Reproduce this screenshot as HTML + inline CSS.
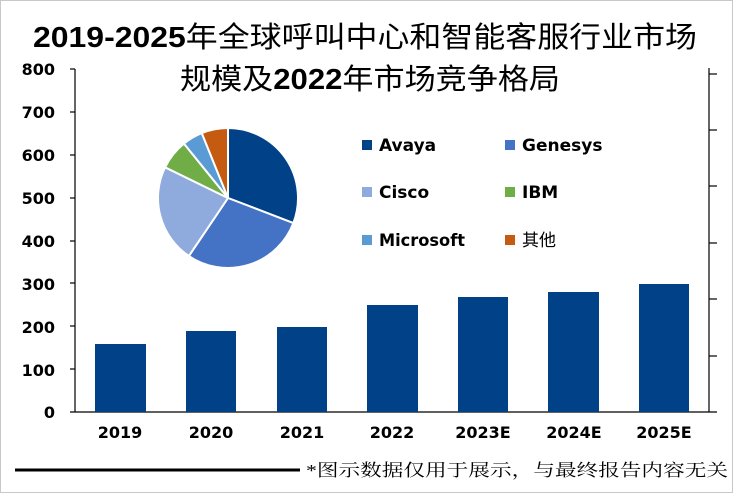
<!DOCTYPE html>
<html><head><meta charset="utf-8"><style>
html,body{margin:0;padding:0;background:#fff;}
svg{display:block;}
</style></head><body>
<svg id="s" width="733" height="493" xmlns="http://www.w3.org/2000/svg" font-family="'Liberation Sans','Noto Sans CJK SC',sans-serif">
<rect x="0.5" y="0.5" width="732" height="492" fill="#fff" stroke="#c8c8c8"/>
<text x="365" y="47" text-anchor="middle" font-size="29" textLength="664" lengthAdjust="spacingAndGlyphs"><tspan font-weight="bold">2019-2025</tspan>年全球呼叫中心和智能客服行业市场</text>
<text x="370" y="89" text-anchor="middle" font-size="29" textLength="380" lengthAdjust="spacingAndGlyphs">规模及<tspan font-weight="bold">2022</tspan>年市场竞争格局</text>
<g font-size="16" font-weight="bold" fill="#000" text-anchor="end" font-family="'DejaVu Sans','Liberation Sans',sans-serif">
<text x="55" y="75">800</text><text x="55" y="118">700</text><text x="55" y="161">600</text><text x="55" y="204">500</text><text x="55" y="247">400</text><text x="55" y="290">300</text><text x="55" y="333">200</text><text x="55" y="376">100</text><text x="55" y="418">0</text>
</g>
<g stroke="#000" stroke-width="1.2">
<line x1="75" y1="69" x2="75" y2="412"/>
<line x1="70" y1="69" x2="75" y2="69"/><line x1="70" y1="112" x2="75" y2="112"/><line x1="70" y1="155" x2="75" y2="155"/><line x1="70" y1="198" x2="75" y2="198"/><line x1="70" y1="241" x2="75" y2="241"/><line x1="70" y1="283" x2="75" y2="283"/><line x1="70" y1="326" x2="75" y2="326"/><line x1="70" y1="369" x2="75" y2="369"/>
<line x1="70" y1="412" x2="717" y2="412"/>
<line x1="709" y1="68" x2="709" y2="412"/>
<line x1="709" y1="74" x2="717" y2="74"/><line x1="709" y1="130" x2="717" y2="130"/><line x1="709" y1="186" x2="717" y2="186"/><line x1="709" y1="243" x2="717" y2="243"/><line x1="709" y1="299" x2="717" y2="299"/><line x1="709" y1="356" x2="717" y2="356"/>
</g>
<g fill="#004187">
<rect x="95" y="344" width="51" height="68"/>
<rect x="186" y="331" width="50" height="81"/>
<rect x="277" y="327" width="50" height="85"/>
<rect x="367" y="305" width="51" height="107"/>
<rect x="458" y="297" width="50" height="115"/>
<rect x="548" y="292" width="51" height="120"/>
<rect x="639" y="284" width="50" height="128"/>
</g>
<g font-size="16" font-weight="bold" text-anchor="middle" font-family="'DejaVu Sans','Liberation Sans',sans-serif">
<text x="120" y="438">2019</text><text x="211" y="438">2020</text><text x="302" y="438">2021</text><text x="392" y="438">2022</text><text x="483" y="438">2023E</text><text x="574" y="438">2024E</text><text x="664" y="438">2025E</text>
</g>
<g id="pie" stroke="#fff" stroke-width="2"></g>
<g font-size="17" font-weight="bold" font-family="'DejaVu Sans','Liberation Sans','Noto Sans CJK SC',sans-serif">
<rect x="362" y="140" width="10" height="10" fill="#004187"/><text x="379" y="151">Avaya</text>
<rect x="505" y="140" width="10" height="10" fill="#4472c4"/><text x="522" y="151">Genesys</text>
<rect x="362" y="187" width="10" height="10" fill="#8faadc"/><text x="379" y="198">Cisco</text>
<rect x="505" y="187" width="10" height="10" fill="#70ad47"/><text x="522" y="198">IBM</text>
<rect x="362" y="235" width="10" height="10" fill="#5b9bd5"/><text x="379" y="246" textLength="86" lengthAdjust="spacingAndGlyphs">Microsoft</text>
<rect x="505" y="235" width="10" height="10" fill="#c55a11"/><text x="522" y="246" font-weight="normal">其他</text>
</g>
<line x1="15" y1="470" x2="300" y2="470" stroke="#000" stroke-width="3"/>
<text x="306" y="476" font-size="17" font-family="'Liberation Serif','Noto Serif CJK SC',serif" textLength="422" lengthAdjust="spacingAndGlyphs">*图示数据仅用于展示，与最终报告内容无关</text>
</svg>
<script>
var cx=228,cy=198,r=70,a=[0,111,214,296,321,338,360],c=["#004187","#4472c4","#8faadc","#70ad47","#5b9bd5","#c55a11"],h="";
function p(d){var t=d*Math.PI/180;return (cx+r*Math.sin(t)).toFixed(2)+","+(cy-r*Math.cos(t)).toFixed(2);}
for(var i=0;i<6;i++){h+='<path d="M'+cx+','+cy+' L'+p(a[i])+' A'+r+','+r+' 0 '+((a[i+1]-a[i])>180?1:0)+' 1 '+p(a[i+1])+' Z" fill="'+c[i]+'"/>';}
document.getElementById("pie").innerHTML=h;
</script>
</body></html>
